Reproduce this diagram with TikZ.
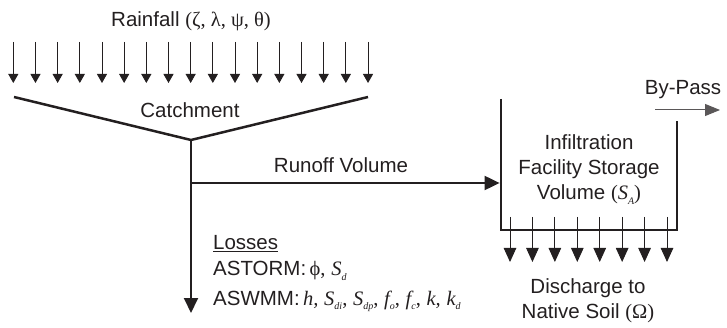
\documentclass[tikz,border=0pt]{standalone}
\usepackage{fontspec}
\setmainfont{Liberation Sans}
\newfontfamily\serifgk{Liberation Serif}
\usetikzlibrary{arrows.meta}
\definecolor{ink}{RGB}{35,31,32}
\newcommand\gk[1]{{\serifgk #1}}
\newcommand\iv[2]{{\serifgk\itshape #1\raisebox{-0.45ex}{\fontsize{10}{10}\selectfont #2}}}
\tikzset{
  lbl/.style={inner sep=0pt, text=ink, anchor=base},
  rainarrow/.style={draw=ink, line width=0.9pt, -{Triangle[width=10pt,length=9pt]}},
  soilarrow/.style={draw=ink, line width=0.9pt, -{Triangle[width=12.5pt,length=14pt]}},
  mainline/.style={draw=ink, line width=2pt},
  mainarrow/.style={mainline, -{Triangle[width=14pt,length=15pt]}},
  wall/.style={draw=ink, line width=2.8pt, line join=miter},
  vline/.style={draw=ink, line width=2.5pt, line join=miter},
  bypassarrow/.style={draw=ink!75, line width=1pt, -{Triangle[width=12pt,length=15pt]}},
}
\begin{document}
\begin{tikzpicture}[x=1pt, y=-1pt, font=\fontsize{20.5}{25}\selectfont]
\path[use as bounding box] (0,0) rectangle (727,328);

% texts
\node[lbl] (rain) at (191,27) {Rainfall \gk{(ζ, λ, ψ, θ)}};
\node[lbl] (catch) at (190,118) {Catchment};
\node[lbl] (runoff) at (341,173) {Runoff Volume};
\node[lbl] (inf1) at (589,150) {Infiltration};
\node[lbl] (inf2) at (589,175) {Facility Storage};
\node[lbl] (inf3) at (589,200) {Volume \gk{(}\iv{S}{A}\gk{)}};
\node[lbl] (bypass) at (683,95) {By-Pass};
\node[lbl] (dis1) at (588,293) {Discharge to};
\node[lbl] (dis2) at (588,318) {Native Soil \gk{(Ω)}};
\node[lbl, anchor=base west] (loss1) at (213,250) {\underline{Losses}};
\node[lbl, anchor=base west] (loss2) at (213,276) {ASTORM:\,\gk{ϕ,} \iv{S}{d}};
\node[lbl, anchor=base west] (loss3) at (213,305) {ASWMM:\,\gk{\itshape h,} \iv{S}{di}\gk{,} \iv{S}{dp}\gk{,} \iv{f}{o}\gk{,} \iv{f}{c}\gk{,} \gk{\itshape k,} \iv{k}{d}};

% rain arrows
\foreach \i in {0,...,16} {
  \coordinate (rs\i) at ({13.3+22.17*\i},42);
  \coordinate (re\i) at ({13.3+22.17*\i},83);
  \draw[rainarrow] (rs\i) -- (re\i);
}

% catchment V
\coordinate (vl) at (14,97);
\coordinate (vtx) at (191,140);
\coordinate (vr) at (368,97);
\draw[vline] (vl) -- (vtx) -- (vr);

% main flow
\coordinate (lossend) at (191,313);
\coordinate (split) at (191,183);
\coordinate (boxin) at (499.6,183);
\draw[mainarrow] (vtx) -- (lossend);
\draw[mainarrow] (split) -- (boxin);

% storage facility
\coordinate (bl) at (501,99);
\coordinate (bbl) at (501,230);
\coordinate (bbr) at (677,230);
\coordinate (br) at (677,121);
\draw[wall] (bl) -- (bbl) -- (bbr) -- (br);

% bypass
\coordinate (bps) at (655,110);
\coordinate (bpe) at (720,110);
\draw[bypassarrow] (bps) -- (bpe);

% discharge arrows
\foreach \j in {0,...,7} {
  \coordinate (ds\j) at ({510+22.43*\j},217);
  \coordinate (de\j) at ({510+22.43*\j},262);
  \draw[soilarrow] (ds\j) -- (de\j);
}
\end{tikzpicture}
\end{document}
